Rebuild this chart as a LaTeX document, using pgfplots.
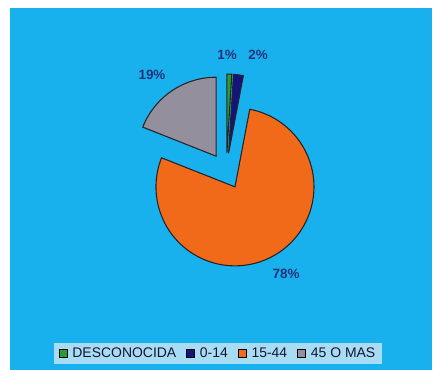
\documentclass[border=0pt]{standalone}
\usepackage{pgfplots}
\pgfplotsset{compat=1.18}
\usepackage{fontspec}
\setmainfont{Liberation Sans}
\definecolor{bgblue}{HTML}{19B0EE}
\definecolor{legbg}{HTML}{A8DCF4}
\definecolor{cgreen}{HTML}{2A9A3A}
\definecolor{cnavy}{HTML}{14147A}
\definecolor{corange}{HTML}{F06A1A}
\definecolor{cgray}{HTML}{948F9C}
\definecolor{labcol}{HTML}{1F3478}
\definecolor{legtext}{HTML}{151530}
\begin{document}
\begin{tikzpicture}
% percentages
\def\PA{1}\def\PB{2}\def\PC{78}\def\PD{19}
\pgfmathsetmacro{\aZ}{90}
\pgfmathsetmacro{\aA}{\aZ-3.6*\PA}
\pgfmathsetmacro{\aB}{\aA-3.6*\PB}
\pgfmathsetmacro{\aC}{\aB-3.6*\PC}
\pgfmathsetmacro{\aD}{\aC-3.6*\PD}
\pgfmathsetmacro{\aCw}{\aC+360}
\def\CX{226.3}\def\CY{198.9}\def\R{79}\def\D{18}
\pgfmathsetmacro{\xA}{\CX+\D*cos((\aZ+\aA)/2)}\pgfmathsetmacro{\yA}{\CY+\D*sin((\aZ+\aA)/2)}
\pgfmathsetmacro{\xB}{\CX+\D*cos((\aA+\aB)/2)}\pgfmathsetmacro{\yB}{\CY+\D*sin((\aA+\aB)/2)}
\pgfmathsetmacro{\xC}{\CX+\D*cos((\aB+\aC)/2)}\pgfmathsetmacro{\yC}{\CY+\D*sin((\aB+\aC)/2)}
\pgfmathsetmacro{\xD}{\CX+\D*cos((\aC+\aD)/2)}\pgfmathsetmacro{\yD}{\CY+\D*sin((\aC+\aD)/2)}
\begin{axis}[
  width=435bp, height=370bp, scale only axis,
  xmin=0, xmax=435, ymin=0, ymax=370,
  axis lines=none, clip=false,
  legend columns=4,
  legend image code/.code={\draw[#1, draw=black, line width=0.7bp] (0bp,-4bp) rectangle (8bp,4bp);},
  legend style={at={(0.5011,0.0446)}, anchor=center, fill=legbg, draw=none,
    font=\fontsize{14}{15}\selectfont, text=legtext, inner xsep=5bp, inner ysep=3bp,
    /tikz/every even column/.append style={column sep=8bp},
    /tikz/every odd column/.append style={column sep=3bp}},
]
\path (axis cs:0,0) rectangle (axis cs:435,370);
\fill[bgblue] (axis cs:10,0) rectangle (axis cs:432,362);
\addplot[fill=cgreen, draw=black!85, line width=1.1bp, domain=\aA:\aZ, samples=10, variable=\t]
  ({\xA+\R*cos(t)}, {\yA+\R*sin(t)}) -- (axis cs:\xA,\yA) -- cycle;
\addlegendentry{DESCONOCIDA}
\addplot[fill=cnavy, draw=black!85, line width=1.1bp, domain=\aB:\aA, samples=10, variable=\t]
  ({\xB+\R*cos(t)}, {\yB+\R*sin(t)}) -- (axis cs:\xB,\yB) -- cycle;
\addlegendentry{0-14}
\addplot[fill=corange, draw=black!85, line width=1.1bp, domain=\aC:\aB, samples=120, variable=\t]
  ({\xC+\R*cos(t)}, {\yC+\R*sin(t)}) -- (axis cs:\xC,\yC) -- cycle;
\addlegendentry{15-44}
\addplot[fill=cgray, draw=black!85, line width=1.1bp, domain=\aZ:\aCw, samples=40, variable=\t]
  ({\xD+\R*cos(t)}, {\yD+\R*sin(t)}) -- (axis cs:\xD,\yD) -- cycle;
\addlegendentry{45 O MAS}
\node[font=\fontsize{13.5}{15}\selectfont\bfseries, text=labcol] at (axis cs:227,315) {1\%};
\node[font=\fontsize{13.5}{15}\selectfont\bfseries, text=labcol] at (axis cs:258,315) {2\%};
\node[font=\fontsize{13.5}{15}\selectfont\bfseries, text=labcol] at (axis cs:152,295) {19\%};
\node[font=\fontsize{13.5}{15}\selectfont\bfseries, text=labcol] at (axis cs:286,96) {78\%};
\end{axis}
\end{tikzpicture}
\end{document}
